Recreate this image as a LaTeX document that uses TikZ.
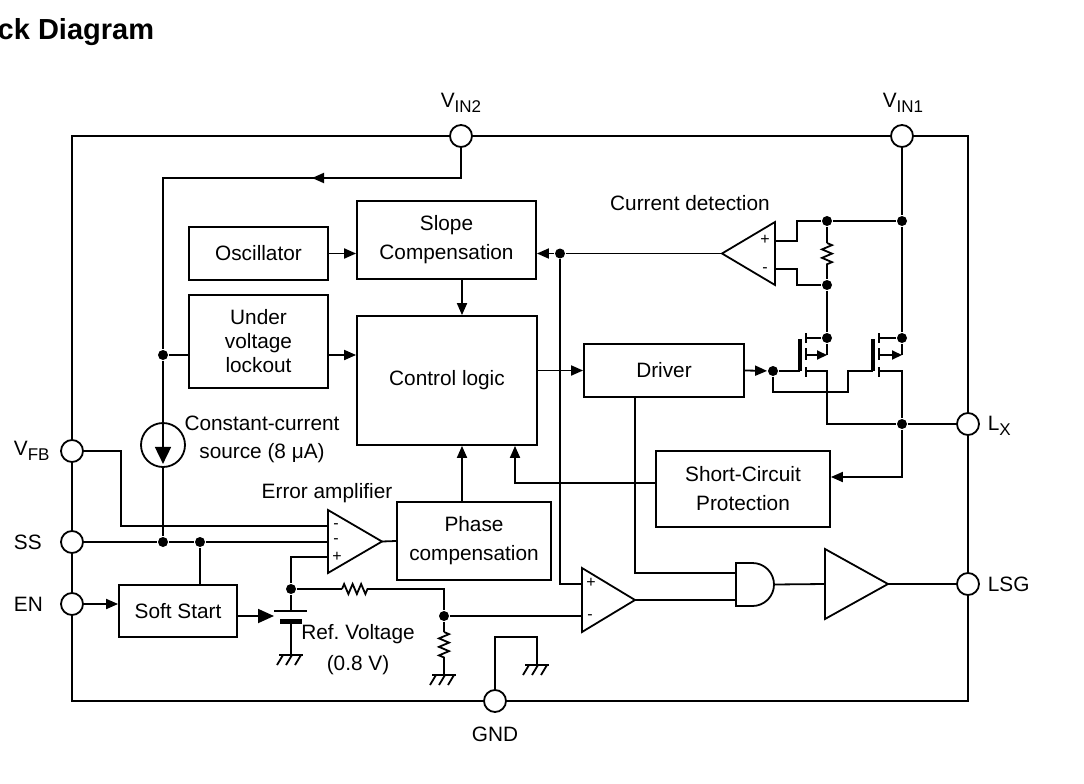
\documentclass[tikz,border=0pt]{standalone}
\usepackage{fontspec}
\setmainfont{Liberation Sans}
\usetikzlibrary{arrows.meta,calc,decorations.pathmorphing}
\newcommand{\pinsub}[2]{#1\raisebox{-0.4ex}{\fontsize{17}{17}\selectfont #2}}
\tikzset{
  box/.style={draw, rectangle, align=center, inner sep=0pt},
  pad/.style={draw, circle, fill=white, minimum size=22pt, inner sep=0pt},
  dot/.style={circle, fill, minimum size=10pt, inner sep=0pt},
  arr/.style={-{Triangle[length=12pt,width=10pt]}},
  res/.style={decorate, decoration={zigzag, segment length=8.5pt, amplitude=5pt}},
  sign/.style={font=\fontsize{16}{16}\selectfont, inner sep=0pt, text height=6pt, text depth=0pt},
}
\begin{document}
\begin{tikzpicture}[x=1pt, y=-1pt, line width=1.8pt, font=\fontsize{20.8}{29}\selectfont]
\useasboundingbox (0,0) rectangle (1084,784);
\node[anchor=base east, inner sep=0pt, font=\fontsize{29}{29}\selectfont\bfseries] (title) at (155,40) {ck Diagram};
% chip outline and pins
\draw (72,136) rectangle (968,701);
\node[pad] (vin2) at (461,136) {};
\node[pad] (vin1) at (902,136) {};
\node[pad] (vfb) at (72,451) {};
\node[pad] (ss) at (72,542) {};
\node[pad] (en) at (72,604) {};
\node[pad] (lx) at (968,424) {};
\node[pad] (lsg) at (968,584) {};
\node[pad] (gnd) at (495,701) {};
\node[inner sep=0pt] (vin2lbl) at (461,103) {\pinsub{V}{IN2}};
\node[inner sep=0pt] (vin1lbl) at (903,103) {\pinsub{V}{IN1}};
\node[anchor=west, inner sep=0pt] (vfblbl) at (13,451) {\pinsub{V}{FB}};
\node[anchor=west, inner sep=0pt] (sslbl) at (13,542) {SS};
\node[anchor=west, inner sep=0pt] (enlbl) at (13,604) {EN};
\node[anchor=west, inner sep=0pt] (lxlbl) at (987,426) {\pinsub{L}{X}};
\node[anchor=west, inner sep=0pt] (lsglbl) at (987,584) {LSG};
\node[inner sep=0pt] (gndlbl) at (495,734) {GND};
% blocks
\node[box, minimum width=139pt, minimum height=53pt] (osc) at (258.5,253.5) {Oscillator};
\node[box, minimum width=179pt, minimum height=78pt] (slope) at (446.5,240) {Slope\\Compensation};
\node[box, minimum width=139pt, minimum height=93pt, font=\fontsize{20.8}{24}\selectfont] (uvlo) at (258.5,341.5) {Under\\voltage\\lockout};
\node[box, minimum width=180pt, minimum height=129pt] (ctrl) at (447,380.5) {Control logic};
\node[box, minimum width=160pt, minimum height=53pt] (driver) at (664,370.5) {Driver};
\node[box, minimum width=174pt, minimum height=76pt] (scp) at (743,489) {Short-Circuit\\Protection};
\node[box, minimum width=154pt, minimum height=78pt] (phase) at (474,541) {Phase\\compensation};
\node[box, minimum width=118pt, minimum height=52pt] (soft) at (178,611) {Soft Start};
% texts
\node (cdlbl) at (690,203) {Current detection};
\node[align=center, font=\fontsize{20.8}{28}\selectfont] (cclbl) at (262,439) {Constant-current\\source (8 μA)};
\node (ealbl) at (327,493) {Error amplifier};
\node[align=center, font=\fontsize{20.8}{31}\selectfont] (reflbl) at (358,650) {Ref.\ Voltage\\(0.8 V)};
% junctions
\node[dot] (duv) at (163,355) {};
\node[dot] (dss1) at (163,542) {};
\node[dot] (dss2) at (200,542) {};
\node[dot] (dref) at (291,589) {};
\node[dot] (dfb) at (444,616) {};
\node[dot] (dsl) at (560,253.5) {};
\node[dot] (dcs1) at (827,221) {};
\node[dot] (dcs2) at (902,221) {};
\node[dot] (dcs3) at (827,285) {};
\node[dot] (dm1) at (827,338) {};
\node[dot] (dm2) at (902,338) {};
\node[dot] (dg) at (773,371) {};
\node[dot] (dlx) at (902,424) {};
\node[draw, circle, minimum size=44pt, inner sep=0pt] (csrc) at (163,445) {};
\coordinate (vtop) at (461,178);
\coordinate (vcorner) at (163,178);
\coordinate (eam1) at (328,526);
\coordinate (eam2) at (328,542);
\coordinate (eap) at (328,557);
\coordinate (eaout) at (382,541.5);
\coordinate (cdp) at (775,241);
\coordinate (cdm) at (775,269);
\coordinate (cdout) at (722,253.5);
\coordinate (cmpp) at (582,584);
\coordinate (cmpm) at (582,616);
\coordinate (cmpout) at (635,600);
\coordinate (anda) at (736,573);
\coordinate (andb) at (736,600);
\coordinate (andout) at (774,584.5);
\coordinate (bufin) at (825,584);
\coordinate (bufout) at (888,584);
\coordinate (batl) at (274,616);
% amplifiers and gates
\draw (328,510) -- (328,573) -- (eaout) -- cycle;
\draw (775,222) -- (775,285) -- (cdout) -- cycle;
\draw (582,568) -- (582,632) -- (cmpout) -- cycle;
\draw (825,549) -- (825,619) -- (bufout) -- cycle;
\draw (736,563) -- (752.5,563) arc[start angle=90, end angle=-90, radius=21.5pt] -- (736,606) -- cycle;
\node[sign] (eas1) at (336,525) {-};
\node[sign] (eas2) at (336,540) {-};
\node[sign] (eas3) at (337,558) {+};
\node[sign] (cds1) at (765,241) {+};
\node[sign] (cds2) at (765,269) {-};
\node[sign] (cms1) at (591,584) {+};
\node[sign] (cms2) at (590,616) {-};
% supply and feedback wiring
\draw (vin2) -- (vtop) -- (vcorner) -- (duv);
\draw[arr] (vtop) -- ($(vtop)!0.5!(vcorner)$);
\draw (duv) -- (csrc);
\draw (csrc) -- (dss1);
\draw[-{Triangle[length=17pt,width=16pt]}] (csrc.north) -- ([yshift=4pt]csrc.south);
\draw (duv) -- (uvlo.west |- duv);
\draw[arr] (uvlo.east |- duv) -- (ctrl.west |- duv);
\draw[arr] (osc.east) -- (slope.west |- osc.east);
\draw[arr] ([xshift=15.5pt]slope.south) -- ([xshift=15.5pt]slope.south |- ctrl.north);
\draw[arr] (ctrl.east |- driver.west) -- (driver.west);
\draw[arr] (driver.east) -- (dg);
\draw (vfb.east) -- ++(37,0) |- (eam1);
\draw (ss) -- (dss1) -- (dss2) -- (eam2);
\draw (dss2) -- (dss2 |- soft.north);
\draw[arr] (en) -- (soft.west |- en);
\draw[-{Triangle[length=16pt,width=14pt]}] (soft.east |- batl) -- (batl);
% reference
\draw (274,611) -- (307,611);
\draw[line width=5pt] (280,621) -- (302,621);
\draw (dref) -- (291,611);
\draw (291,621) -- (291,655);
\draw (dref) |- (eap);
\draw (dref) -- (342,589);
\draw[res] (342,589) -- (368,589);
\draw (368,589) -| (dfb);
\draw (dfb) -- (444,632);
\draw[res] (444,632) -- (444,658);
\draw (444,658) -- (444,675);
\draw (dfb) -- (cmpm);
\draw (eaout) -- (phase.west);
\draw[arr] ([xshift=-12pt]phase.north) -- ([xshift=-12pt]phase.north |- ctrl.south);
\draw[arr] ([yshift=6pt]scp.west) -| ([xshift=68pt]ctrl.south);
\draw (cdout) -- (dsl);
\draw[arr] (dsl) -- (slope.east |- dsl);
\draw (dsl) |- (cmpp);
\draw ([xshift=-29pt]driver.south) |- (anda);
\draw (cmpout) -- (andb);
\draw (andout) -- (bufin);
\draw (bufout) -- (lsg);
% current detection
\draw (cdp) -- ++(22,0) |- (dcs1);
\draw (cdm) -- ++(22,0) |- (dcs3);
\draw (dcs1) -- (dcs2);
\draw (dcs1) -- (827,243);
\draw[res] (827,243) -- (827,268);
\draw (827,268) -- (dcs3);
\draw (dcs3) -- (dm1);
\draw (vin1) -- (dcs2) -- (dm2);
% high side switches
\draw (dg) -- (800,371);
\draw (dg) -- ++(0,21) -| (848,371) -- (873,371);
\draw[line width=4.5pt] (800,339) -- (800,371);
\draw (806,333) -- (806,343) (806,348) -- (806,360) (806,367) -- (806,377);
\draw (806,338) -- (dm1);
\draw[-{Triangle[length=10pt,width=9pt]}] (806,355) -- (827,355);
\draw (dm1) -- (827,355);
\draw (806,371) -- (827,371) -- (827,424) -- (dlx);
\draw[line width=4.5pt] (873,339) -- (873,371);
\draw (879,333) -- (879,343) (879,348) -- (879,360) (879,367) -- (879,377);
\draw (879,338) -- (dm2);
\draw[-{Triangle[length=10pt,width=9pt]}] (879,355) -- (902,355);
\draw (dm2) -- (902,355);
\draw (879,371) -- (902,371) -- (dlx);
\draw (dlx) -- (lx);
\draw[arr] (dlx) |- ([yshift=12pt]scp.east);
% ground
\draw (gnd) -- (495,637) -- (537,637) -- (537,665);
\draw (279,655) -- (303,655);
\draw (283,655) -- (277,665) (292,655) -- (286,665) (301,655) -- (295,665);
\draw (432,675) -- (456,675);
\draw (436,675) -- (430,685) (445,675) -- (439,685) (454,675) -- (448,685);
\draw (525,665) -- (549,665);
\draw (529,665) -- (523,675) (538,665) -- (532,675) (547,665) -- (541,675);
\end{tikzpicture}
\end{document}
